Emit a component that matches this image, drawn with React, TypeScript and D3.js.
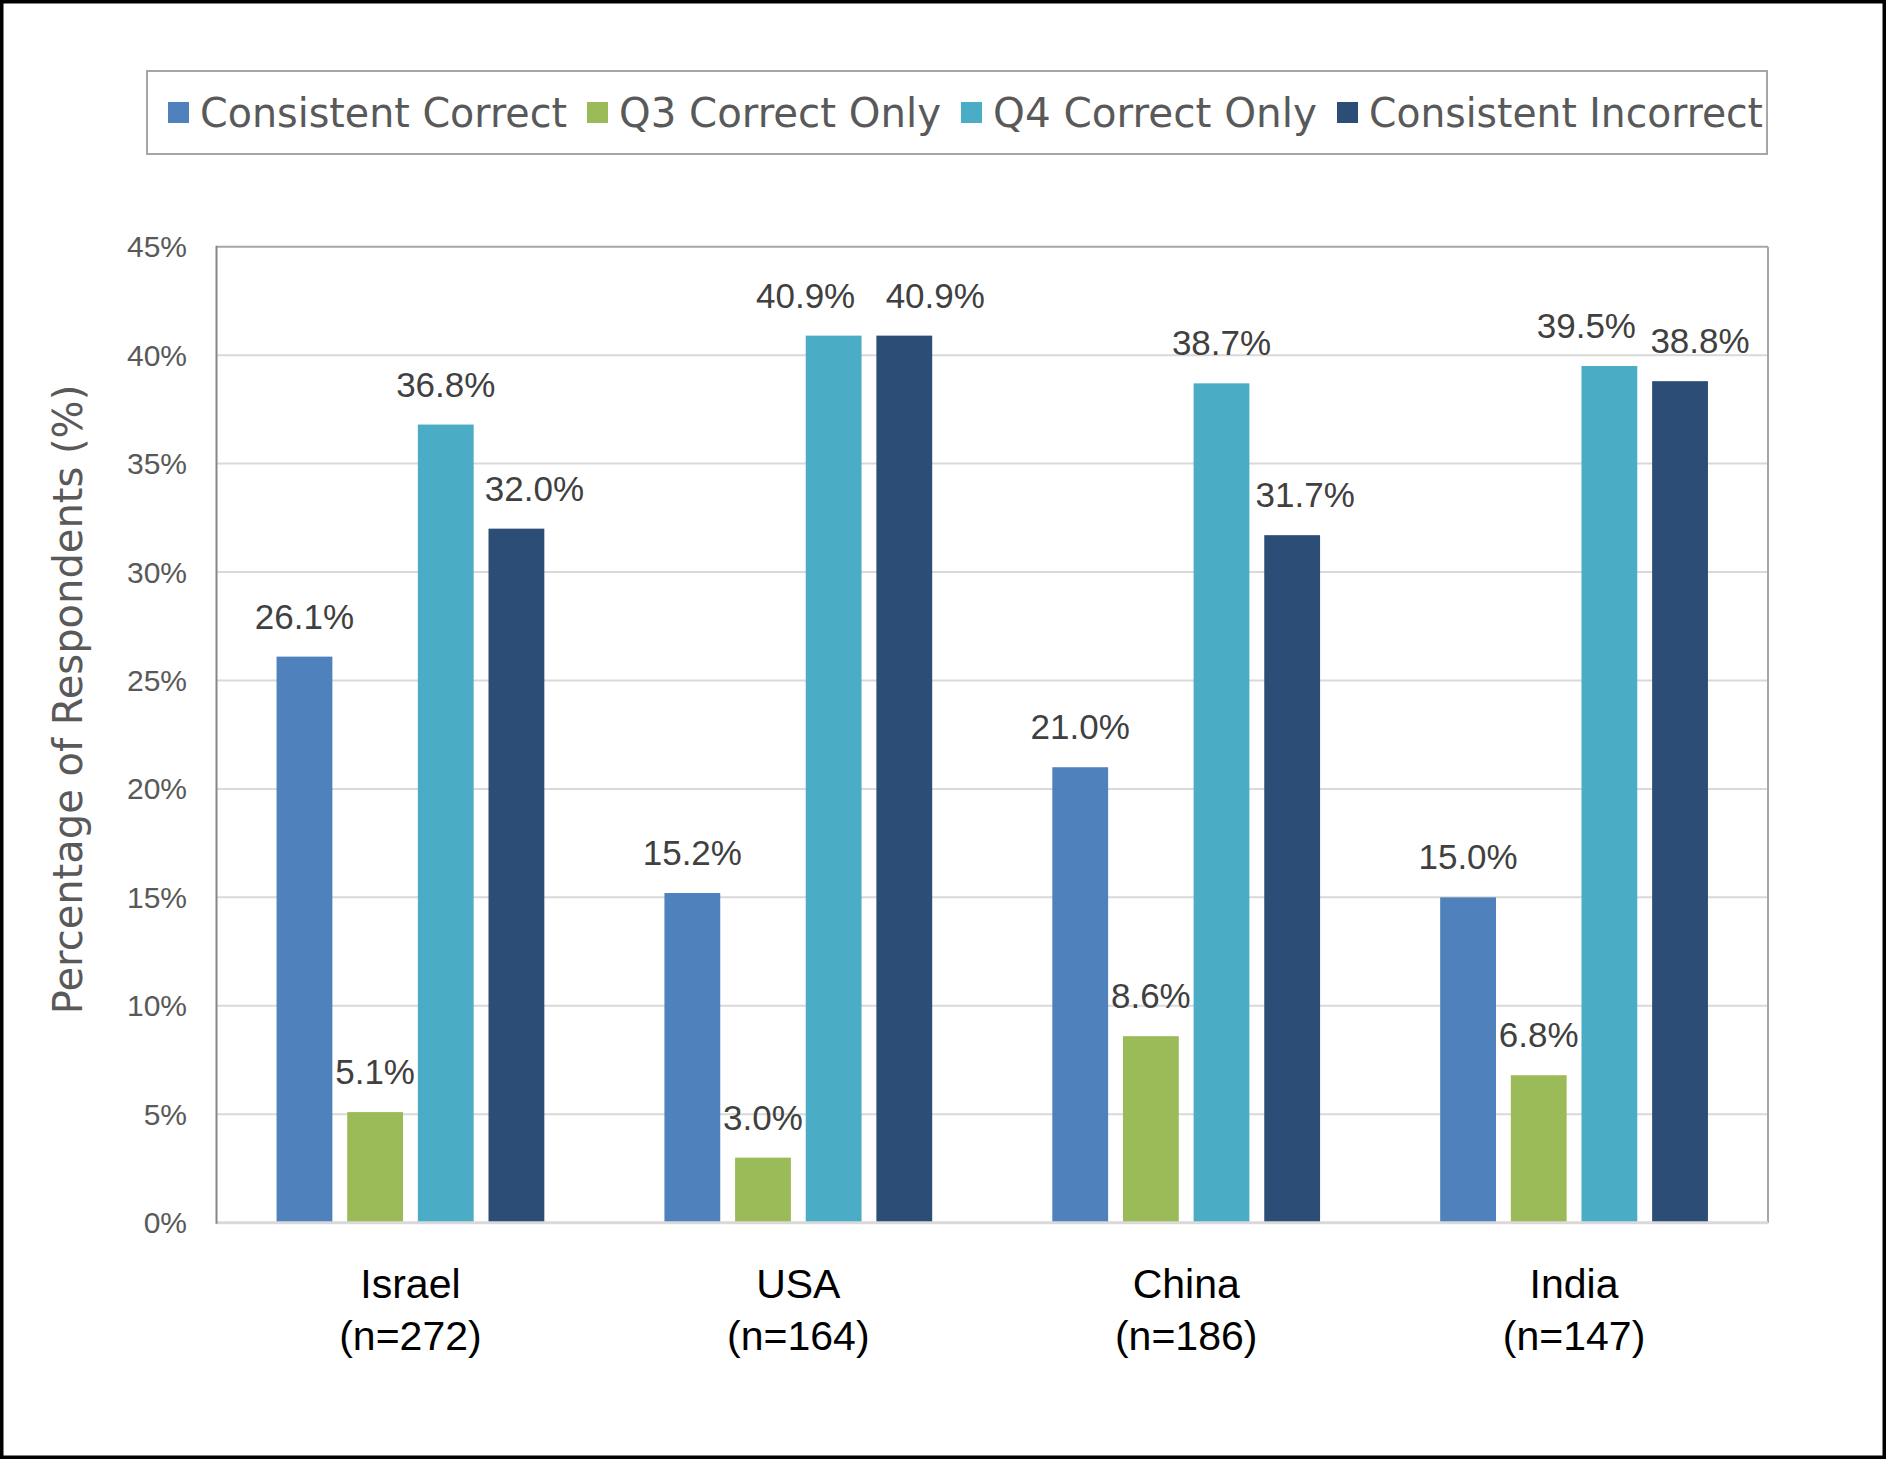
import React from "react";
import * as d3 from "d3";

const countries = ["Israel", "USA", "China", "India"];
const sampleSizes = ["(n=272)", "(n=164)", "(n=186)", "(n=147)"];
const seriesNames = ["Consistent Correct", "Q3 Correct Only", "Q4 Correct Only", "Consistent Incorrect"];
const consistentCorrect = [26.1, 15.2, 21.0, 15.0];
const q3CorrectOnly = [5.1, 3.0, 8.6, 6.8];
const q4CorrectOnly = [36.8, 40.9, 38.7, 39.5];
const consistentIncorrect = [32.0, 40.9, 31.7, 38.8];
const yTicks = [0, 5, 10, 15, 20, 25, 30, 35, 40, 45];
const seriesColors = ["#4f81bd", "#9bbb59", "#4bacc6", "#2c4d75"];

// layout only: horizontal nudges of value labels [country][series], px
const labelNudge = [
  [0, 0, 0, 18],
  [0, 0, -28, 31],
  [0, 0, 0, 13],
  [0, 0, -23, 20],
];
// layout only: rendered widths of the legend texts, px
const legendTextWidths = [367, 322, 324, 394];

const W = 1886;
const H = 1459;
const plot = { left: 216.5, right: 1768, top: 246.7, bottom: 1222.7 };

const NUM_FONT = "'Liberation Sans', Arial, sans-serif";
const TXT_FONT = "'DejaVu Sans', sans-serif";

export default function App() {
  const values = [consistentCorrect, q3CorrectOnly, q4CorrectOnly, consistentIncorrect];

  const x0 = d3.scaleBand<string>().domain(countries).range([plot.left, plot.right]).padding(0);
  const x1 = d3
    .scaleBand<string>()
    .domain(seriesNames)
    .range([0, x0.bandwidth()])
    .paddingInner(0.21)
    .paddingOuter(0.85);
  const y = d3.scaleLinear().domain([0, 45]).range([plot.bottom, plot.top]);

  const legendFontSize = 40;
  let lx = 168;
  const legendItems = seriesNames.map((name, i) => {
    const item = { name, color: seriesColors[i], sx: lx, tx: lx + 32, w: legendTextWidths[i] };
    lx = lx + 32 + legendTextWidths[i] + 20;
    return item;
  });

  return (
    <svg
      width={W}
      height={H}
      viewBox={`0 0 ${W} ${H}`}
      style={{ position: "absolute", left: 0, top: 0, display: "block", background: "#fff" }}
    >
      <rect x={0} y={0} width={W} height={H} fill="#ffffff" />

      {/* legend */}
      <rect x={147} y={71} width={1620} height={83} fill="none" stroke="#a6a6a6" strokeWidth={2} />
      {legendItems.map((it) => (
        <g key={it.name}>
          <rect x={it.sx} y={102} width={21} height={21} fill={it.color} />
          <text
            x={it.tx}
            y={127}
            fontFamily={TXT_FONT}
            fontSize={legendFontSize}
            fill="#595959"
            textLength={it.w}
            lengthAdjust="spacingAndGlyphs"
          >
            {it.name}
          </text>
        </g>
      ))}

      {/* gridlines */}
      {yTicks
        .filter((t) => t > 0 && t < 45)
        .map((t) => (
          <line
            key={t}
            x1={plot.left}
            x2={plot.right}
            y1={y(t)}
            y2={y(t)}
            stroke="#d9d9d9"
            strokeWidth={2}
          />
        ))}

      {/* plot frame */}
      <line x1={plot.left} x2={plot.right} y1={plot.top} y2={plot.top} stroke="#a6a6a6" strokeWidth={2} />
      <line x1={plot.right} x2={plot.right} y1={plot.top} y2={plot.bottom} stroke="#a6a6a6" strokeWidth={2} />

      {/* bars */}
      {countries.map((c, ci) => (
        <g key={c} transform={`translate(${x0(c)},0)`}>
          {seriesNames.map((s, si) => {
            const v = values[si][ci];
            return (
              <rect
                key={s}
                x={x1(s)}
                y={y(v)}
                width={x1.bandwidth()}
                height={y(0) - y(v)}
                fill={seriesColors[si]}
              />
            );
          })}
          {seriesNames.map((s, si) => {
            const v = values[si][ci];
            return (
              <text
                key={s + "-l"}
                x={(x1(s) as number) + x1.bandwidth() / 2 + labelNudge[ci][si]}
                y={y(v) - 28}
                textAnchor="middle"
                fontFamily={NUM_FONT}
                fontSize={35}
                fill="#404040"
              >
                {v.toFixed(1) + "%"}
              </text>
            );
          })}
        </g>
      ))}

      {/* axes */}
      <line x1={plot.left} x2={plot.right} y1={plot.bottom} y2={plot.bottom} stroke="#d9d9d9" strokeWidth={3} />
      <line x1={plot.left} x2={plot.left} y1={plot.top - 1} y2={plot.bottom + 1} stroke="#868686" strokeWidth={2} />

      {/* y tick labels */}
      {yTicks.map((t) => (
        <text
          key={t}
          x={187}
          y={y(t) + 10.5}
          textAnchor="end"
          fontFamily={NUM_FONT}
          fontSize={30}
          fill="#595959"
        >
          {t + "%"}
        </text>
      ))}

      {/* category labels */}
      {countries.map((c, ci) => {
        const cx = (x0(c) as number) + x0.bandwidth() / 2;
        return (
          <g key={c + "-cat"}>
            <text x={cx} y={1298} textAnchor="middle" fontFamily={NUM_FONT} fontSize={41} fill="#000">
              {c}
            </text>
            <text x={cx} y={1350} textAnchor="middle" fontFamily={NUM_FONT} fontSize={41} fill="#000">
              {sampleSizes[ci]}
            </text>
          </g>
        );
      })}

      {/* y axis title */}
      <text
        transform={`translate(82, 699.5) rotate(-90)`}
        textAnchor="middle"
        fontFamily={TXT_FONT}
        fontSize={40}
        fill="#595959"
      >
        Percentage of Respondents (%)
      </text>

      {/* outer border */}
      <rect x={1.75} y={1.75} width={W - 3.5} height={H - 3.5} fill="none" stroke="#000" strokeWidth={3.5} />
    </svg>
  );
}
